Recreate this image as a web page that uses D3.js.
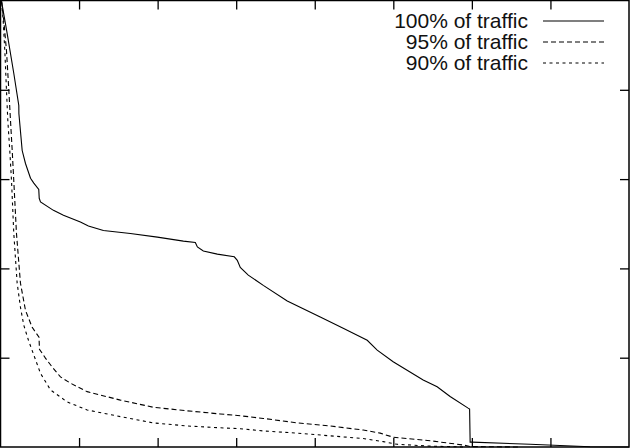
<!DOCTYPE html>
<html>
<head>
<meta charset="utf-8">
<script src="https://cdn.jsdelivr.net/npm/d3@7"></script>
<style>
  html, body { margin: 0; padding: 0; background: #fff; }
</style>
</head>
<body>
<div id="chart"></div>
<script>
const FONT = "Liberation Sans, Arial, Helvetica, sans-serif";
const COLOR_LINE = "#000000";
const TICK_LEN = 9;

// x: position along the sorted list (0..8), y: share of traffic (%)
const xTicks = [1, 2, 3, 4, 5, 6, 7];
const yTicks = [20, 40, 60, 80];

const seriesNames = ["100% of traffic", "95% of traffic", "90% of traffic"];
const seriesDash = [null, "5,3", "3,3.5"];

const traffic100 = [
  [0.013, 99.8], [0.085, 92.6], [0.169, 83.7], [0.233, 76.5], [0.234, 74.7],
  [0.276, 66.4], [0.318, 63.5], [0.382, 60.2], [0.424, 59.1], [0.487, 57.7],
  [0.493, 55.7], [0.509, 54.9], [0.674, 53.0], [0.801, 51.9], [1.017, 50.4],
  [1.119, 49.5], [1.310, 48.5], [1.653, 47.8], [1.997, 47.0], [2.328, 46.1],
  [2.480, 45.8], [2.506, 44.8], [2.582, 43.9], [2.760, 43.2], [2.976, 42.6],
  [3.014, 41.8], [3.052, 40.2], [3.154, 38.5], [3.345, 36.2], [3.650, 32.7],
  [4.070, 29.1], [4.362, 26.6], [4.668, 23.9], [4.795, 21.7], [4.998, 19.1],
  [5.380, 15.0], [5.558, 13.5], [5.723, 11.3], [5.952, 8.7], [5.971, 8.5],
  [5.978, 1.1], [6.003, 1.1], [6.741, 0.6], [7.504, 0.05], [8.0, 0]
];

const traffic95 = [
  [0.013, 99.8], [0.042, 95.5], [0.076, 88.8], [0.106, 79.9], [0.127, 73.2],
  [0.149, 66.4], [0.169, 59.7], [0.203, 47.9], [0.254, 36.7], [0.318, 30.6],
  [0.403, 26.8], [0.490, 24.6], [0.496, 21.9], [0.572, 19.9], [0.658, 17.9],
  [0.763, 15.7], [0.890, 14.3], [1.103, 12.4], [1.526, 10.5], [1.946, 8.9],
  [2.378, 8.1], [2.798, 7.4], [3.052, 7.0], [3.345, 6.4], [3.777, 5.4],
  [4.197, 4.7], [4.617, 3.8], [4.833, 3.1], [4.998, 2.2], [5.469, 1.4],
  [5.889, 0.45], [5.978, 0.1], [6.614, 0]
];

const traffic90 = [
  [0.013, 99.8], [0.034, 95.5], [0.055, 88.8], [0.076, 79.9], [0.093, 73.2],
  [0.118, 66.4], [0.140, 59.7], [0.169, 47.9], [0.212, 36.7], [0.254, 31.3],
  [0.296, 27.3], [0.356, 23.9], [0.424, 20.6], [0.509, 16.5], [0.636, 12.8],
  [0.848, 10.1], [1.103, 8.3], [1.526, 6.8], [1.946, 5.4], [2.378, 4.7],
  [2.798, 4.3], [3.052, 4.1], [3.345, 3.6], [3.777, 3.1], [4.197, 2.5],
  [4.617, 1.9], [4.871, 1.2], [5.049, 0.6], [5.469, 0.2], [5.889, 0]
];

const series = [traffic100, traffic95, traffic90];

const chartSize = { width: 630, height: 448 };
const plot = { left: 0.5, right: 629, top: 0.5, bottom: 447 };

const svg = d3.select("#chart")
  .append("svg")
  .attr("width", chartSize.width)
  .attr("height", chartSize.height)
  .attr("font-family", FONT);

const x = d3.scaleLinear().domain([0, 8]).range([plot.left, plot.right]);
const y = d3.scaleLinear().domain([0, 100]).range([plot.bottom, plot.top]);

// ticks on all four sides, pointing inward
function styleAxis(g) {
  g.select(".domain").remove();
  g.selectAll(".tick line").attr("stroke", COLOR_LINE).attr("stroke-width", 1.3);
}
svg.append("g")
  .attr("transform", `translate(0,${plot.bottom})`)
  .call(d3.axisBottom(x).tickValues(xTicks).tickSize(-TICK_LEN).tickFormat(""))
  .call(styleAxis);
svg.append("g")
  .attr("transform", `translate(0,${plot.top})`)
  .call(d3.axisTop(x).tickValues(xTicks).tickSize(-TICK_LEN).tickFormat(""))
  .call(styleAxis);
svg.append("g")
  .attr("transform", `translate(${plot.left},0)`)
  .call(d3.axisLeft(y).tickValues(yTicks).tickSize(-TICK_LEN).tickFormat(""))
  .call(styleAxis);
svg.append("g")
  .attr("transform", `translate(${plot.right},0)`)
  .call(d3.axisRight(y).tickValues(yTicks).tickSize(-TICK_LEN).tickFormat(""))
  .call(styleAxis);

// curves
const line = d3.line().x(d => x(d[0])).y(d => y(d[1]));
series.forEach((s, i) => {
  svg.append("path")
    .datum(s)
    .attr("fill", "none")
    .attr("stroke", COLOR_LINE)
    .attr("stroke-width", 1.1)
    .attr("stroke-dasharray", seriesDash[i])
    .attr("d", line);
});

// frame
svg.append("rect")
  .attr("x", plot.left)
  .attr("y", plot.top)
  .attr("width", plot.right - plot.left)
  .attr("height", plot.bottom - plot.top)
  .attr("fill", "none")
  .attr("stroke", COLOR_LINE)
  .attr("stroke-width", 1.5);

// legend
const legend = svg.append("g").attr("class", "legend");
seriesNames.forEach((name, i) => {
  const row = legend.append("g").attr("transform", `translate(0,${28 + i * 21})`);
  row.append("text")
    .attr("x", 528)
    .attr("y", 0)
    .attr("text-anchor", "end")
    .attr("font-size", "21px")
    .attr("fill", "#111")
    .text(name);
  row.append("line")
    .attr("x1", 543)
    .attr("x2", 604)
    .attr("y1", -7)
    .attr("y2", -7)
    .attr("stroke", COLOR_LINE)
    .attr("stroke-width", 1.1)
    .attr("stroke-dasharray", seriesDash[i]);
});
</script>
</body>
</html>
